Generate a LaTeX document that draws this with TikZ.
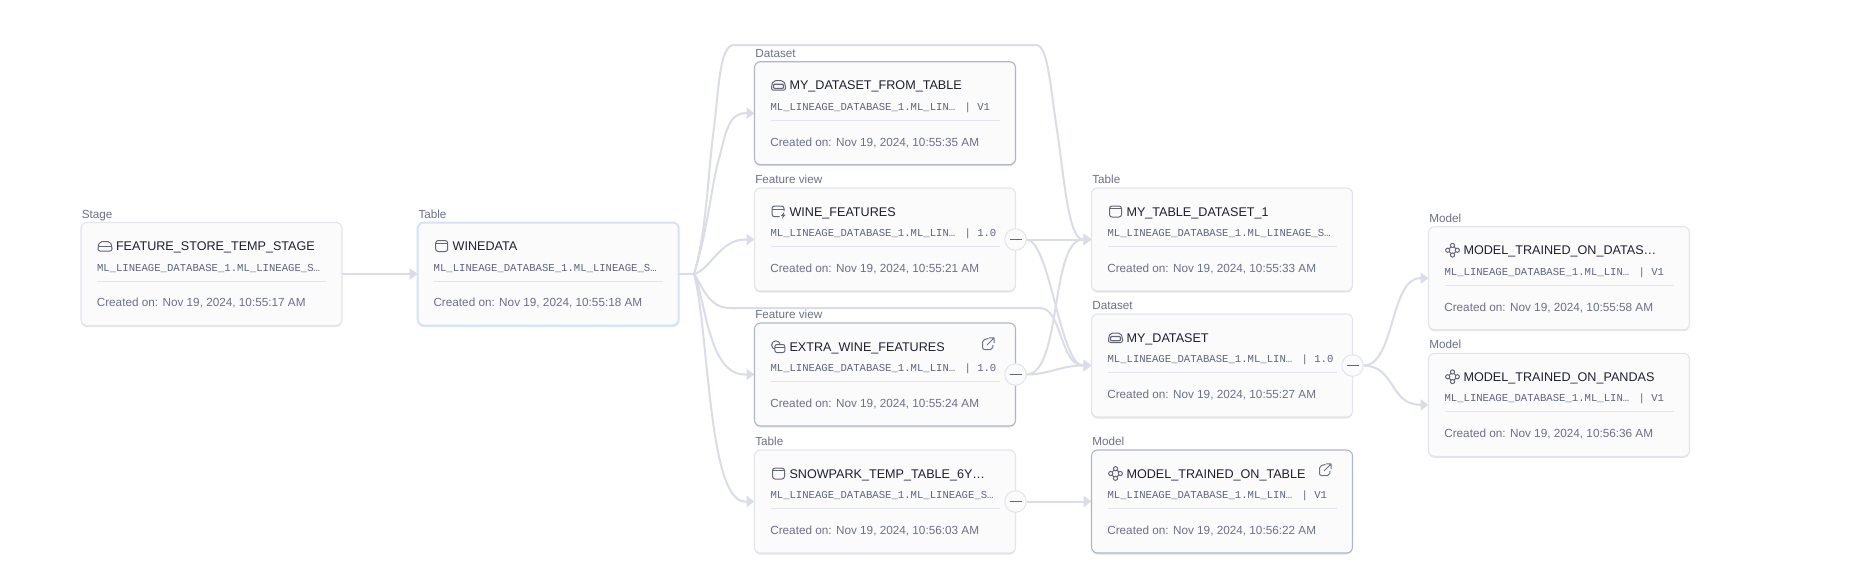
\documentclass[tikz,border=0pt]{standalone}
\usepackage{fontspec}
\setmainfont{Liberation Sans}
\setmonofont{Liberation Mono}
\usetikzlibrary{arrows.meta,backgrounds,calc,shadows}
\definecolor{edgecol}{HTML}{DADDE8}
\definecolor{cardfill}{HTML}{FBFBFC}
\definecolor{borderlight}{HTML}{E3E5ED}
\definecolor{borderdark}{HTML}{AEB6CC}
\definecolor{borderblue}{HTML}{D5E2FA}
\definecolor{titlecol}{HTML}{1E2030}
\definecolor{greycol}{HTML}{6B7188}
\definecolor{monocol}{HTML}{5F6580}
\definecolor{iconcol}{HTML}{62677D}
\newcommand{\cardtitlefont}{\fontsize{12.6}{15}\selectfont}
\newcommand{\cardsmallfont}{\fontsize{11.75}{14}\selectfont}
\newcommand{\cardlabelfont}{\fontsize{11.7}{14}\selectfont}
\newcommand{\cardmonofont}{\ttfamily\fontsize{10.62}{13}\selectfont}
\tikzset{
  cardbase/.style={rectangle,rounded corners=6pt,fill=cardfill,minimum width=261pt,minimum height=103pt,inner sep=0pt,outer sep=0pt,
    drop shadow={shadow xshift=0pt,shadow yshift=-1.5pt,opacity=.10,fill=black}},
  plaincard/.style={draw=borderlight,line width=1.1pt},
  darkcard/.style={draw=borderdark,line width=1.1pt},
  bluecard/.style={draw=borderblue,line width=2pt},
  txtbase/.style={anchor=base west,inner sep=0pt,outer sep=0pt},
  labeltxt/.style={txtbase,text=greycol,font=\cardlabelfont},
  titletxt/.style={txtbase,text=titlecol,font=\cardtitlefont},
  monotxt/.style={txtbase,text=monocol,font=\cardmonofont},
  createdtxt/.style={txtbase,text=greycol,font=\cardsmallfont},
  divline/.style={draw=borderlight,line width=1pt},
  edgeline/.style={draw=edgecol,line width=2pt,line join=round},
  edgearrow/.style={edgeline,-{Triangle[length=8pt,width=11pt,fill=edgecol]}},
  togglebtn/.style={circle,draw=borderlight,fill=cardfill,line width=1pt,minimum size=21.5pt,inner sep=0pt,outer sep=0pt},
  minusline/.style={draw=iconcol,line width=1.1pt},
  iconline/.style={draw=iconcol,line width=1pt,line join=round},
  pics/icontable/.style={code={
    \draw[iconline,rounded corners=2.5pt] (-6,-5.5) rectangle (6,5.5);
    \draw[iconline] (-6,-2.6) -- (6,-2.6);}},
  pics/iconstage/.style={code={
    \draw[iconline,rounded corners=2pt] (-7,0.5) -- (-5,-4.5) -- (5,-4.5) -- (7,0.5) -- (7,5) -- (-7,5) -- cycle;
    \draw[iconline] (-6.6,0.5) -- (6.6,0.5);}},
  pics/icondataset/.style={code={
    \draw[iconline,rounded corners=2pt] (-7,0) -- (-5,-4.5) -- (5,-4.5) -- (7,0) -- (7,5) -- (-7,5) -- cycle;
    \draw[iconline,rounded corners=1pt,line width=1.2pt] (-5,-1) rectangle (5,3.2);}},
  pics/iconfeature/.style={code={
    \draw[iconline,rounded corners=2.5pt] (1,5.2) -- (-6.5,5.2) -- (-6.5,-5.5) -- (5.5,-5.5) -- (5.5,-0.5);
    \draw[iconline] (-6.5,-2.4) -- (5.5,-2.4);
    \fill[iconcol] (5.6,0.5) -- (2.4,4.4) -- (4.3,4.4) -- (3.4,7.4) -- (7,3.2) -- (5,3.2) -- cycle;}},
  pics/iconextra/.style={code={
    \draw[iconline] (-2.6,-1.4) circle (4.3pt);
    \draw[iconline,rounded corners=2pt,fill=cardfill] (-3.6,-2) rectangle (6.4,6);
    \draw[iconline] (-3.6,1.4) -- (6.4,1.4);}},
  pics/iconmodel/.style={code={
    \draw[iconline] (0,-4.8) circle (2.1pt) (0,4.8) circle (2.1pt) (-4.8,0) circle (2.1pt) (4.8,0) circle (2.1pt);
    \draw[iconline] (-1.5,-3.3) -- (-3.3,-1.5) (1.5,-3.3) -- (3.3,-1.5) (-1.5,3.3) -- (-3.3,1.5) (1.5,3.3) -- (3.3,1.5);}},
  pics/iconlink/.style={code={
    \draw[draw=greycol,line width=1pt,rounded corners=2pt] (0.5,-5.5) -- (-5.5,-4) -- (-5.5,5.5) -- (4.5,5.5) -- (5,1);
    \draw[draw=greycol,line width=1pt] (-1,1) -- (6,-6) (1,-6.2) -- (6,-6) -- (6,-1);}}
}
% name, x, y, style, icon, label, title, mono, created
\newcommand{\card}[9]{%
  \begin{scope}[shift={(#2,#3)}]
    \node[cardbase,#4] (#1) at (130.5,51.5) {};
    \node[labeltxt] (#1-label) at (0.8,-4.4) {#6};
    \pic (#1-icon) at (24,23.5) {#5};
    \node[titletxt] (#1-title) at (35,28) {#7};
    \node[monotxt] (#1-path) at (16,48.6) {#8};
    \draw[divline] (16,58.5) -- (245,58.5);
    \node[createdtxt] (#1-created) at (15.8,84.3) {#9};
  \end{scope}}
\newcommand{\verlabel}[2]{\node[monotxt] (#1-ver) at ($(#1.north west)+(210,48.6)$) {#2};}
\newcommand{\toggle}[1]{%
  \node[togglebtn] (#1-btn) at (#1.east) {};
  \draw[minusline] ($(#1-btn.center)+(-6,0)$) -- ($(#1-btn.center)+(6,0)$);}
\begin{document}
\begin{tikzpicture}[x=1pt,y=-1pt]
\useasboundingbox (0,0) rectangle (1866,582);
\card{stage}{81}{222.5}{plaincard}{iconstage}{Stage}{FEATURE\_STORE\_TEMP\_STAGE}{ML\_LINEAGE\_DATABASE\_1.ML\_LINEAGE\_S…}{Created on: Nov 19, 2024, 10:55:17 AM}
\card{winedata}{417.7}{222.5}{bluecard}{icontable}{Table}{WINEDATA}{ML\_LINEAGE\_DATABASE\_1.ML\_LINEAGE\_S…}{Created on: Nov 19, 2024, 10:55:18 AM}
\card{dsfromtable}{754.5}{61.7}{darkcard}{icondataset}{Dataset}{MY\_DATASET\_FROM\_TABLE}{ML\_LINEAGE\_DATABASE\_1.ML\_LIN…}{Created on: Nov 19, 2024, 10:55:35 AM}
\verlabel{dsfromtable}{| V1}
\card{wine}{754.5}{188}{plaincard}{iconfeature}{Feature view}{WINE\_FEATURES}{ML\_LINEAGE\_DATABASE\_1.ML\_LIN…}{Created on: Nov 19, 2024, 10:55:21 AM}
\verlabel{wine}{| 1.0}
\card{extra}{754.5}{323}{darkcard}{iconextra}{Feature view}{EXTRA\_WINE\_FEATURES}{ML\_LINEAGE\_DATABASE\_1.ML\_LIN…}{Created on: Nov 19, 2024, 10:55:24 AM}
\verlabel{extra}{| 1.0}
\card{snowpark}{754.5}{450}{plaincard}{icontable}{Table}{SNOWPARK\_TEMP\_TABLE\_6Y…}{ML\_LINEAGE\_DATABASE\_1.ML\_LINEAGE\_S…}{Created on: Nov 19, 2024, 10:56:03 AM}
\card{mytable}{1091.5}{188}{plaincard}{icontable}{Table}{MY\_TABLE\_DATASET\_1}{ML\_LINEAGE\_DATABASE\_1.ML\_LINEAGE\_S…}{Created on: Nov 19, 2024, 10:55:33 AM}
\card{mydataset}{1091.5}{314}{plaincard}{icondataset}{Dataset}{MY\_DATASET}{ML\_LINEAGE\_DATABASE\_1.ML\_LIN…}{Created on: Nov 19, 2024, 10:55:27 AM}
\verlabel{mydataset}{| 1.0}
\card{modeltable}{1091.5}{450}{darkcard}{iconmodel}{Model}{MODEL\_TRAINED\_ON\_TABLE}{ML\_LINEAGE\_DATABASE\_1.ML\_LIN…}{Created on: Nov 19, 2024, 10:56:22 AM}
\verlabel{modeltable}{| V1}
\card{modeldatas}{1428.5}{226.7}{plaincard}{iconmodel}{Model}{MODEL\_TRAINED\_ON\_DATAS…}{ML\_LINEAGE\_DATABASE\_1.ML\_LIN…}{Created on: Nov 19, 2024, 10:55:58 AM}
\verlabel{modeldatas}{| V1}
\card{pandas}{1428.5}{353.3}{plaincard}{iconmodel}{Model}{MODEL\_TRAINED\_ON\_PANDAS}{ML\_LINEAGE\_DATABASE\_1.ML\_LIN…}{Created on: Nov 19, 2024, 10:56:36 AM}
\verlabel{pandas}{| V1}
\pic (extra-link) at (988,344) {iconlink};
\pic (modeltable-link) at (1325,470) {iconlink};
\toggle{wine}
\toggle{extra}
\toggle{snowpark}
\toggle{mydataset}
\coordinate (wj) at (694,274);
\begin{scope}[on background layer]
  \fill[white] (0,0) rectangle (1866,582);
  \draw[edgearrow] (stage.east) -- (winedata.west);
  \draw[edgeline] (winedata.east) -- (wj);
  \draw[edgearrow] (wj) .. controls (708,230) and (712,180) .. (720,155) .. controls (726,130) and (730,113.2) .. (745,113.2) -- (dsfromtable.west);
  \draw[edgearrow] (wj) .. controls (710,270) and (720,239.5) .. (745,239.5) -- (wine.west);
  \draw[edgearrow] (wj) .. controls (706,300) and (708,374.5) .. (745,374.5) -- (extra.west);
  \draw[edgearrow] (wj) .. controls (709,330) and (708,501.5) .. (745,501.5) -- (snowpark.west);
  \draw[edgearrow] (wj) .. controls (707,230) and (708,170) .. (714,128) .. controls (719,85) and (720,45) .. (734,45) -- (1036,45) .. controls (1048,45) and (1050,85) .. (1057,130) .. controls (1064,175) and (1068,239.5) .. (1083,239.5) -- (mytable.west);
  \draw[edgearrow] (wj) .. controls (702,285) and (708,308) .. (730,308) -- (1040,308) .. controls (1062,308) and (1060,365.5) .. (1083,365.5) -- (mydataset.west);
  \draw[edgearrow] (wine-btn.east) -- (mytable.west);
  \draw[edgearrow] (wine-btn.east) .. controls (1050,239.5) and (1060,365.5) .. (1083,365.5) -- (mydataset.west);
  \draw[edgearrow] (extra-btn.east) .. controls (1050,374.5) and (1060,365.5) .. (1083,365.5) -- (mydataset.west);
  \draw[edgearrow] (extra-btn.east) .. controls (1062,374.5) and (1050,239.5) .. (1083,239.5) -- (mytable.west);
  \draw[edgearrow] (snowpark-btn.east) -- (modeltable.west);
  \draw[edgearrow] (mydataset-btn.east) .. controls (1395,365.5) and (1390,278.2) .. (1420,278.2) -- (modeldatas.west);
  \draw[edgearrow] (mydataset-btn.east) .. controls (1395,365.5) and (1390,404.8) .. (1420,404.8) -- (pandas.west);
\end{scope}
\end{tikzpicture}
\end{document}
